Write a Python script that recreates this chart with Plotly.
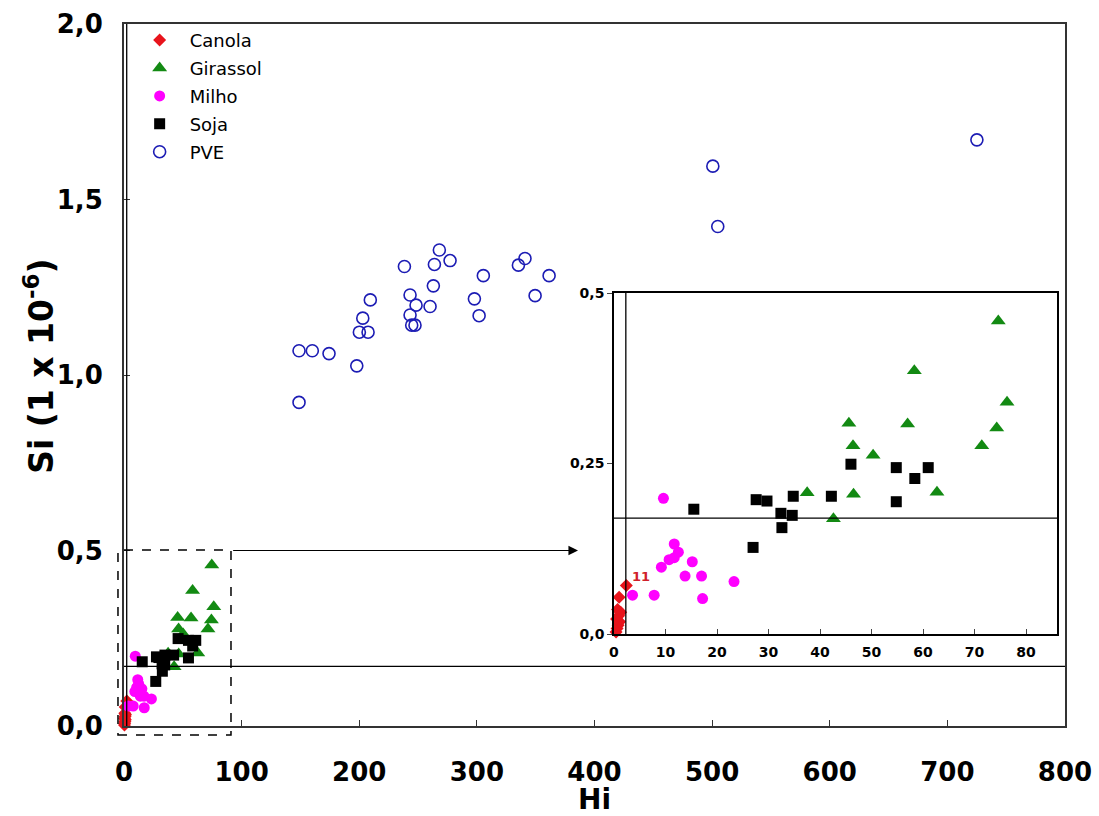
import plotly.graph_objects as go

# ---------------- data ----------------
canola_hi = [0.4, 0.6, 0.8, 1.1, 0.5, 0.9, 1.3, 0.7, 1.0, 2.4]
canola_si = [0.003, 0.008, 0.013, 0.018, 0.022, 0.027, 0.032, 0.036, 0.054, 0.071]

girassol_hi = [37.5, 42.6, 45.6, 46.4, 46.5, 50.3, 57.0, 58.3, 62.7, 71.4, 74.3, 74.6, 76.3]
girassol_si = [0.207, 0.169, 0.309, 0.276, 0.205, 0.262, 0.308, 0.386, 0.208, 0.276, 0.302, 0.459, 0.340]

milho_hi = [9.6, 11.7, 12.5, 11.7, 10.7, 9.2, 15.2, 13.8, 17.0, 23.3, 3.6, 7.8, 17.2]
milho_si = [0.199, 0.132, 0.120, 0.112, 0.109, 0.098, 0.106, 0.085, 0.085, 0.077, 0.057, 0.057, 0.052]

soja_hi = [15.5, 27.0, 27.6, 29.7, 32.4, 32.6, 34.6, 34.8, 42.2, 46.0, 54.8, 54.8, 58.4, 61.0]
soja_si = [0.183, 0.127, 0.197, 0.195, 0.177, 0.156, 0.174, 0.202, 0.202, 0.249, 0.244, 0.194, 0.228, 0.244]

pve_hi = [148.8, 148.8, 160.1, 174.3, 197.9, 200.1, 207.5, 203.0, 209.4, 238.4,
          268.1, 277.2, 263.9, 263.0, 243.2, 248.3, 260.2, 243.2, 244.6, 247.4,
          305.5, 297.9, 301.9, 340.9, 335.3, 361.4, 349.5, 500.6, 504.8, 725.1]
pve_si = [0.922, 1.069, 1.069, 1.061, 1.026, 1.122, 1.122, 1.162, 1.214, 1.309,
          1.356, 1.326, 1.315, 1.254, 1.228, 1.199, 1.195, 1.171, 1.142, 1.142,
          1.283, 1.217, 1.169, 1.332, 1.313, 1.283, 1.226, 1.595, 1.423, 1.670]

main_x_ticks = [0, 100, 200, 300, 400, 500, 600, 700, 800]
main_y_ticks = [0.0, 0.5, 1.0, 1.5, 2.0]
main_y_labels = ["0,0", "0,5", "1,0", "1,5", "2,0"]
inset_x_ticks = [0, 10, 20, 30, 40, 50, 60, 70, 80]
inset_y_ticks = [0.0, 0.25, 0.5]
inset_y_labels = ["0,0", "0,25", "0,5"]

x_title = "Hi"
y_title = "Si (1 x 10<sup>-6</sup>)"

h_line = 0.17      # horizontal reference line (Si)
v_line = 2.3       # vertical reference line (Hi)
canola_label = "11"

FONT = "DejaVu Sans"

series = [
    ("Canola", canola_hi, canola_si, dict(symbol="diamond", color="#e8141c", size=10)),
    ("Girassol", girassol_hi, girassol_si, dict(symbol="triangle-up", color="#138a13", size=13)),
    ("Milho", milho_hi, milho_si, dict(symbol="circle", color="#ff00ff", size=11)),
    ("Soja", soja_hi, soja_si, dict(symbol="square", color="#000000", size=11)),
    ("PVE", pve_hi, pve_si, dict(symbol="circle-open", color="#1c1cb4", size=12,
                                 line=dict(width=1.6, color="#1c1cb4"))),
]

fig = go.Figure()
for name, xs, ys, mk in series:
    fig.add_trace(go.Scatter(x=xs, y=ys, mode="markers", name=name, marker=mk,
                             xaxis="x", yaxis="y", cliponaxis=False,
                             legendgroup=name))
for name, xs, ys, mk in series:
    if name == "PVE":
        continue
    fig.add_trace(go.Scatter(x=xs, y=ys, mode="markers", name=name, marker=mk,
                             xaxis="x2", yaxis="y2", showlegend=False,
                             cliponaxis=False))

shapes = [
    # main plot reference lines
    dict(type="line", xref="x domain", yref="y", x0=0, x1=1, y0=h_line, y1=h_line,
         line=dict(color="black", width=1.3)),
    dict(type="line", xref="x", yref="y domain", x0=v_line, x1=v_line, y0=0, y1=1,
         line=dict(color="black", width=1.3)),
    # inset reference lines
    dict(type="line", xref="x2 domain", yref="y2", x0=0, x1=1, y0=h_line, y1=h_line,
         line=dict(color="black", width=1.3)),
    dict(type="line", xref="x2", yref="y2 domain", x0=v_line, x1=v_line, y0=0, y1=1,
         line=dict(color="black", width=1.3)),
    # dashed zoom box
    dict(type="rect", xref="paper", yref="paper", x0=-0.0064, x1=0.1137,
         y0=-0.0128, y1=0.2507, line=dict(color="black", width=1.5, dash="dash")),
]

annotations = [
    dict(x=386, y=0.5, ax=91.5, ay=0.5, xref="x", yref="y", axref="x", ayref="y",
         showarrow=True, arrowhead=2, arrowsize=1.6, arrowwidth=1.2, arrowcolor="black",
         text=""),
    dict(x=canola_hi[-1], y=canola_si[-1], xref="x2", yref="y2", text=canola_label,
         showarrow=False, xanchor="left", yanchor="bottom", xshift=4, yshift=0,
         font=dict(family=FONT, size=13, color="#d0202a", weight="bold")),
    # axis titles
    dict(x=0.5, y=-0.104, xref="paper", yref="paper", text=x_title, showarrow=False,
         xanchor="center", yanchor="middle", borderpad=0,
         font=dict(family=FONT, size=28, weight="bold", color="black")),
    dict(x=-0.0893, y=0.513, xref="paper", yref="paper", text=y_title, showarrow=False,
         textangle=-90, xanchor="center", yanchor="middle",
         font=dict(family=FONT, size=33, weight="bold", color="black")),
]

fig.update_layout(
    width=1099, height=816,
    margin=dict(l=124, r=34, t=24, b=90, autoexpand=False),
    paper_bgcolor="white", plot_bgcolor="white",
    font=dict(family=FONT, color="black"),
    showlegend=True,
    legend=dict(x=0.006, y=1.003, xanchor="left", yanchor="top",
                font=dict(family=FONT, size=18, color="black"),
                bgcolor="rgba(0,0,0,0)", tracegroupgap=1.5, itemwidth=50),
    xaxis=dict(domain=[0, 1], range=[0, 800], tickvals=main_x_ticks,
               ticks="inside", ticklen=6, tickcolor="#333", automargin=False,
               tickfont=dict(family=FONT, size=26, weight="bold"),
               ticklabelstandoff=22,
               showline=True, linecolor="#333", linewidth=2, mirror=True,
               showgrid=False, zeroline=False),
    yaxis=dict(domain=[0, 1], range=[0, 2.0], tickvals=main_y_ticks,
               ticktext=main_y_labels, automargin=False,
               ticks="inside", ticklen=6, tickcolor="#333",
               tickfont=dict(family=FONT, size=26, weight="bold"),
               ticklabelstandoff=14,
               showline=True, linecolor="#333", linewidth=2, mirror=True,
               showgrid=False, zeroline=False),
    xaxis2=dict(domain=[0.5207, 0.9915], range=[0, 86], anchor="y2",
                tickvals=inset_x_ticks, ticks="inside", ticklen=5, automargin=False,
                tickfont=dict(family=FONT, size=14, weight="bold"),
                ticklabelstandoff=4,
                showline=True, linecolor="black", linewidth=1.5, mirror=True,
                showgrid=False, zeroline=False),
    yaxis2=dict(domain=[0.131, 0.6168], range=[0, 0.5], anchor="x2",
                tickvals=inset_y_ticks, ticktext=inset_y_labels,
                ticks="outside", ticklen=5, automargin=False,
                tickfont=dict(family=FONT, size=14, weight="bold"),
                showline=True, linecolor="black", linewidth=1.5, mirror=True,
                showgrid=False, zeroline=False),
    shapes=shapes,
    annotations=annotations,
)

fig.write_html("out.html")
